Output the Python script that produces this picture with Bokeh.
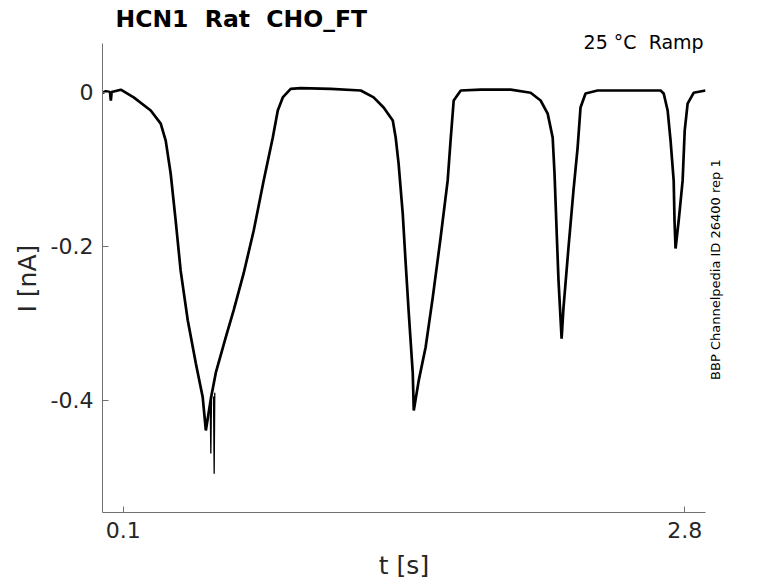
import math
from bokeh.plotting import figure
from bokeh.layouts import row
from bokeh.models import Range1d, FixedTicker, Label, Title
from bokeh.embed import file_html
from bokeh.resources import INLINE

# ---- data (time in s, current in nA) ----
t_s = [0.000, 0.016, 0.036, 0.040, 0.044, 0.088, 0.150, 0.232, 0.280, 0.304,
       0.328, 0.352, 0.376, 0.410, 0.449, 0.482, 0.497, 0.521, 0.545, 0.593,
       0.631, 0.679, 0.727, 0.775, 0.819, 0.843, 0.867, 0.905, 0.953, 1.098,
       1.242, 1.304, 1.352, 1.396, 1.410, 1.424, 1.444, 1.458, 1.473, 1.492,
       1.497, 1.521, 1.554, 1.588, 1.626, 1.660, 1.674, 1.689, 1.723, 1.819,
       1.963, 2.059, 2.107, 2.141, 2.165, 2.174, 2.184, 2.193, 2.208, 2.217,
       2.241, 2.265, 2.285, 2.299, 2.323, 2.381, 2.538, 2.684, 2.699, 2.718,
       2.732, 2.747, 2.751, 2.756, 2.771, 2.790, 2.800, 2.814, 2.843, 2.900]
i_nA = [-0.001, 0.001, 0.000, -0.011, 0.000, 0.003, -0.007, -0.024, -0.041, -0.063,
        -0.106, -0.167, -0.232, -0.296, -0.352, -0.396, -0.439, -0.398, -0.364, -0.318,
        -0.283, -0.235, -0.180, -0.115, -0.059, -0.024, -0.007, 0.004, 0.005, 0.004,
        0.002, -0.007, -0.020, -0.037, -0.059, -0.093, -0.158, -0.222, -0.287, -0.364,
        -0.413, -0.374, -0.331, -0.267, -0.189, -0.115, -0.063, -0.011, 0.002, 0.003,
        0.003, -0.001, -0.011, -0.028, -0.059, -0.106, -0.180, -0.244, -0.320, -0.280,
        -0.202, -0.128, -0.072, -0.020, -0.002, 0.002, 0.002, 0.002, -0.002, -0.024,
        -0.063, -0.115, -0.167, -0.203, -0.167, -0.115, -0.050, -0.015, -0.001, 0.002]

# two narrow artefact spikes near the first minimum
spike_t = [[0.518, 0.521, 0.524], [0.534, 0.537, 0.540]]
spike_i = [[-0.405, -0.469, -0.400], [-0.395, -0.495, -0.390]]

x_ticks = [0.1, 2.8]
x_tick_labels = {0.1: "0.1", 2.8: "2.8"}
y_ticks = [-0.4, -0.2, 0.0]
y_tick_labels = {-0.4: "-0.4", -0.2: "-0.2", 0.0: "0"}
y_axis_span = (-0.545, 0.063)

NB = "\u00a0 "  # double space that survives SVG whitespace collapsing
title_text = "HCN1" + NB + "Rat" + NB + "CHO_FT"
cond_text = "25 °C" + NB + "Ramp"
side_text = "BBP Channelpedia ID 26400 rep 1"
x_label = "t [s]"
y_label = "I [nA]"

FONT = "DejaVu Sans"
TXT = "#262626"
AX = "#707070"

p = figure(width=707, height=583, output_backend="svg", toolbar_location=None,
           x_range=Range1d(0.0, 2.9), y_range=Range1d(-0.5454, 0.0772),
           min_border_left=102, min_border_right=2, min_border_top=32,
           min_border_bottom=71)
p.outline_line_color = None
p.background_fill_color = "white"
p.border_fill_color = "white"
p.xgrid.visible = False
p.ygrid.visible = False

p.title.text = title_text
p.title.align = "left"
p.title.offset = 13
p.title.standoff = 0
p.title.text_font = FONT
p.title.text_font_size = "23.5px"
p.title.text_font_style = "bold"
p.title.text_color = "black"

p.line(t_s, i_nA, line_color="black", line_width=2.7)
p.multi_line(spike_t, spike_i, line_color="black", line_width=1.3)

for ax in (p.xaxis[0], p.yaxis[0]):
    ax.axis_line_color = AX
    ax.axis_line_width = 1
    ax.major_tick_line_color = AX
    ax.major_tick_in = 6
    ax.major_tick_out = 0
    ax.minor_tick_line_color = None
    ax.major_label_text_font = FONT
    ax.major_label_text_font_size = "22px"
    ax.major_label_text_color = TXT
    ax.axis_label_text_font = FONT
    ax.axis_label_text_font_size = "25px"
    ax.axis_label_text_font_style = "normal"
    ax.axis_label_text_color = TXT

p.xaxis[0].ticker = FixedTicker(ticks=x_ticks)
p.xaxis[0].major_label_overrides = x_tick_labels
p.xaxis[0].axis_label = x_label
p.xaxis[0].major_label_standoff = 9
p.xaxis[0].axis_label_standoff = 10

p.yaxis[0].ticker = FixedTicker(ticks=y_ticks)
p.yaxis[0].major_label_overrides = y_tick_labels
p.yaxis[0].bounds = y_axis_span
p.yaxis[0].major_label_standoff = 9

# y-axis label as a left-side title so it can be placed along the visible axis
p.add_layout(Title(text=y_label, align="left", offset=200, standoff=11,
                   text_font=FONT, text_font_size="25px",
                   text_font_style="normal", text_color=TXT), "left")

p.add_layout(Label(x=2.891, y=0.0655, text=cond_text, text_font=FONT,
                   text_font_size="19px", text_color="black",
                   text_align="right", text_baseline="middle"))

# narrow strip to the right of the axes that carries the vertical side note
side = figure(width=71, height=583, output_backend="svg", toolbar_location=None,
              x_range=Range1d(0, 71), y_range=Range1d(0, 583),
              x_axis_location=None, y_axis_location=None,
              min_border_left=0, min_border_right=0, min_border_top=0,
              min_border_bottom=0)
side.outline_line_color = None
side.xgrid.visible = False
side.ygrid.visible = False
side.background_fill_color = "white"
side.border_fill_color = "white"
side.add_layout(Label(x=8, y=295, text=side_text, text_font=FONT,
                      text_font_size="13px", text_color="black",
                      angle=math.pi / 2, text_align="center",
                      text_baseline="middle"))

layout = row(p, side, spacing=0)
open("out.html", "w").write(file_html(layout, INLINE))
